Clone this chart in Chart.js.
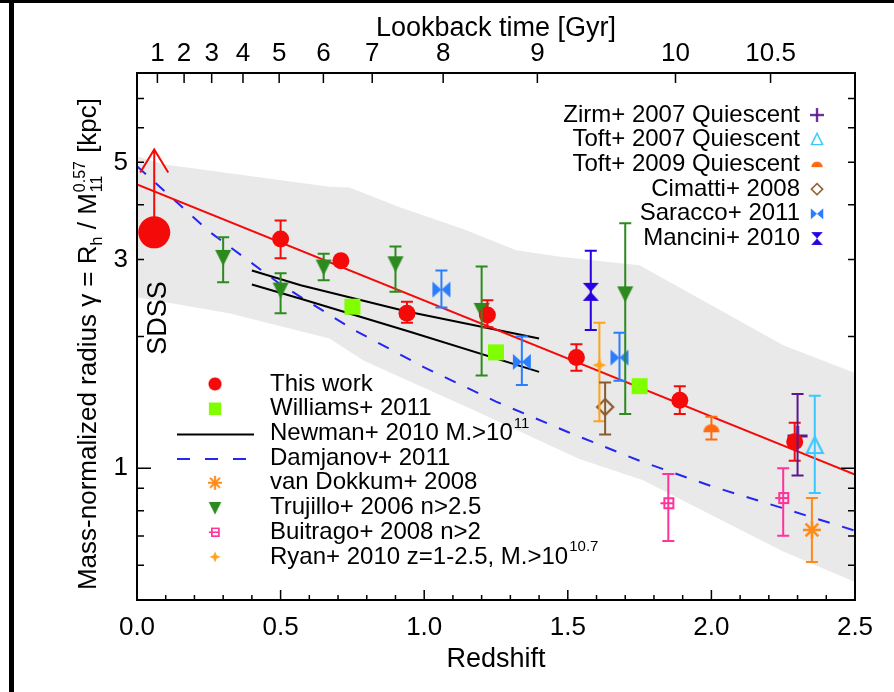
<!DOCTYPE html>
<html>
<head>
<meta charset="utf-8">
<script src="https://cdn.jsdelivr.net/npm/chart.js@4.4.0/dist/chart.umd.min.js"></script>
<style>
  html, body { margin: 0; padding: 0; background: #fff; }
</style>
</head>
<body>
<canvas id="sizeChart" width="894" height="692"></canvas>
<script>
// ---- values: redshift z and gamma [kpc] ----
const thisWorkZ  = [0.50, 0.71, 0.94, 1.22, 1.53, 1.89, 2.29];
const thisWorkY  = [3.34, 2.98, 2.26, 2.24, 1.79, 1.43, 1.15];
const thisWorkLo = [3.02, 2.90, 2.15, 2.10, 1.67, 1.33, 1.04];
const thisWorkHi = [3.68, 3.06, 2.40, 2.42, 1.92, 1.54, 1.27];

const sdssZ = [0.06];
const sdssY = [3.46];
const sdssArrowTop = 5.35;

const williamsZ = [0.75, 1.25, 1.75];
const williamsY = [2.34, 1.84, 1.54];

const trujilloZ  = [0.30, 0.50, 0.65, 0.90, 1.20, 1.70];
const trujilloY  = [3.04, 2.56, 2.89, 2.94, 2.30, 2.51];
const trujilloLo = [2.66, 2.26, 2.69, 2.53, 1.63, 1.33];
const trujilloHi = [3.37, 2.79, 3.09, 3.21, 2.89, 3.63];

const saraccoZ  = [1.06, 1.34, 1.68];
const saraccoY  = [2.56, 1.75, 1.79];
const saraccoLo = [2.33, 1.55, 1.585];
const saraccoHi = [2.83, 2.00, 2.04];

const manciniZ = [1.58], manciniY = [2.53], manciniLo = [2.07], manciniHi = [3.14];
const ryanZ = [1.61], ryanY = [1.72], ryanLo = [1.28], ryanHi = [2.15];
const cimattiZ = [1.63], cimattiY = [1.38], cimattiLo = [1.195], cimattiHi = [1.57];
const toft09Z = [2.00], toft09Y = [1.234], toft09Lo = [1.164], toft09Hi = [1.312];
const zirmZ = [2.30], zirmY = [1.185], zirmLo = [0.962], zirmHi = [1.477];
const toft07Z = [2.36], toft07Y = [1.124], toft07Lo = [0.878], toft07Hi = [1.464];
const dokkumZ = [2.35], dokkumY = [0.723], dokkumLo = [0.611], dokkumHi = [0.855];

const buitragoZ  = [1.85, 2.25];
const buitragoY  = [0.832, 0.855];
const buitragoLo = [0.682, 0.701];
const buitragoHi = [0.97, 1.00];

const fitZ = [0, 2.5];
const fitY = [4.45, 0.967];

const damjanovZ = [0, 0.25, 0.5, 0.75, 1.0, 1.25, 1.5, 1.75, 2.0, 2.25, 2.5];
const damjanovY = [4.90, 3.48, 2.63, 2.08, 1.70, 1.42, 1.21, 1.04, 0.91, 0.81, 0.72];

const newmanUpperZ = [0.40, 0.57, 0.94, 1.40];
const newmanUpperY = [2.83, 2.62, 2.28, 1.98];
const newmanLowerZ = [0.40, 0.57, 0.95, 1.40];
const newmanLowerY = [2.63, 2.44, 2.05, 1.66];

const bandTopZ = [0, 0.09, 0.67, 0.74, 0.91, 1.14, 1.32, 1.48, 1.75, 2.25, 2.5];
const bandTopY = [5.16, 4.95, 4.40, 4.38, 3.96, 3.51, 3.15, 3.04, 2.91, 1.91, 1.65];
const bandBottomZ = [0, 0.32, 0.67, 0.79, 1.16, 1.54, 1.76, 2.25, 2.5];
const bandBottomY = [2.46, 2.26, 1.98, 1.76, 1.37, 1.05, 0.94, 0.645, 0.55];

// axis ticks
const lookbackZ = [0.071, 0.164, 0.260, 0.369, 0.495, 0.649, 0.819, 1.066, 1.394, 1.875, 2.206];
const lookbackLabels = ['1', '2', '3', '4', '5', '6', '7', '8', '9', '10', '10.5'];
const yLabelValues = [1, 3, 5];
const yTickValues = [0.6, 0.7, 0.8, 0.9, 1, 2, 3, 4, 5, 6, 7];

const legendRightLabels = ['Zirm+ 2007 Quiescent', 'Toft+ 2007 Quiescent', 'Toft+ 2009 Quiescent',
  'Cimatti+ 2008', 'Saracco+ 2011', 'Mancini+ 2010'];
const legendLeftLabels = [['This work', ''], ['Williams+ 2011', ''], ['Newman+ 2010 M.>10', '11'],
  ['Damjanov+ 2011', ''], ['van Dokkum+ 2008', ''], ['Trujillo+ 2006 n>2.5', ''],
  ['Buitrago+ 2008 n>2', ''], ['Ryan+ 2010 z=1-2.5, M.>10', '10.7']];

const FONT = 'Liberation Sans, Arial, Helvetica, sans-serif';
Chart.defaults.font.family = FONT;
Chart.defaults.color = '#000';

// colours
const RED = '#f50a0a', GREEN = '#2c8a1e', LIME = '#80ff00', SKY = '#2a7dff', VIOLET = '#2a00e0';
const ORANGE = '#ffa31a', BROWN = '#8a5a2e', DOME = '#ff6a10', PURPLE = '#5c178c';
const CYAN = '#3cc8ff', DOKKUM = '#ff8a1a', PINK = '#ff3399', DBLUE = '#2626f0';

// little marker images
function marker(size, draw) {
    const c = document.createElement('canvas');
    c.width = size; c.height = size;
    const g = c.getContext('2d');
    g.translate(size / 2, size / 2);
    g.lineJoin = 'miter';
    draw(g);
    return c;
}
const mkTriDown = marker(22, g => {
    g.fillStyle = GREEN; g.beginPath();
    g.moveTo(-8, -7); g.lineTo(8, -7); g.lineTo(0, 9); g.closePath(); g.fill();
});
const mkSquare = marker(20, g => { g.fillStyle = LIME; g.fillRect(-8, -8, 16, 16); });
const mkBowtie = marker(22, g => {
    g.fillStyle = SKY; g.beginPath();
    g.moveTo(-9, -8); g.lineTo(-9, 8); g.lineTo(0, 0); g.closePath();
    g.moveTo(9, -8); g.lineTo(9, 8); g.lineTo(0, 0); g.closePath(); g.fill();
});
const mkHourglass = marker(22, g => {
    g.fillStyle = VIOLET; g.beginPath();
    g.moveTo(-8, -9); g.lineTo(8, -9); g.lineTo(0, 0); g.closePath();
    g.moveTo(-8, 9); g.lineTo(8, 9); g.lineTo(0, 0); g.closePath(); g.fill();
});
const mkStar4 = marker(18, g => {
    g.fillStyle = ORANGE; g.beginPath();
    g.moveTo(0, -7); g.lineTo(2, -2); g.lineTo(7, 0); g.lineTo(2, 2);
    g.lineTo(0, 7); g.lineTo(-2, 2); g.lineTo(-7, 0); g.lineTo(-2, -2); g.closePath(); g.fill();
});
const mkDiamond = marker(22, g => {
    g.strokeStyle = BROWN; g.lineWidth = 2.2; g.beginPath();
    g.moveTo(0, -8); g.lineTo(8, 0); g.lineTo(0, 8); g.lineTo(-8, 0); g.closePath(); g.stroke();
});
const mkDome = marker(20, g => {
    g.fillStyle = DOME; g.beginPath();
    g.arc(0, 4, 8, Math.PI, 0); g.closePath(); g.fill();
});
const mkPlus = marker(24, g => {
    g.strokeStyle = PURPLE; g.lineWidth = 3; g.beginPath();
    g.moveTo(-10, 0); g.lineTo(10, 0); g.moveTo(0, -10); g.lineTo(0, 10); g.stroke();
});
const mkTriUp = marker(22, g => {
    g.strokeStyle = CYAN; g.lineWidth = 2.2; g.beginPath();
    g.moveTo(0, -9); g.lineTo(8, 7); g.lineTo(-8, 7); g.closePath(); g.stroke();
});
const mkAsterisk = marker(22, g => {
    g.strokeStyle = DOKKUM; g.lineWidth = 2.5; g.beginPath();
    for (let k = 0; k < 4; k++) {
        const a = k * Math.PI / 4;
        g.moveTo(-9 * Math.cos(a), -9 * Math.sin(a)); g.lineTo(9 * Math.cos(a), 9 * Math.sin(a));
    }
    g.stroke();
});
const mkBuitrago = marker(20, g => {
    g.strokeStyle = PINK; g.lineWidth = 2; g.beginPath();
    g.rect(-4, -5, 9, 10); g.moveTo(-8, 0); g.lineTo(5, 0); g.stroke();
});
const mkCircle = marker(20, g => { g.fillStyle = RED; g.beginPath(); g.arc(0, 0, 8.5, 0, 2 * Math.PI); g.fill(); });

const pts = (zs, ys) => zs.map((z, i) => ({ x: z, y: ys[i] }));

function pointSet(zs, ys, style, color, lo, hi, extra) {
    return Object.assign({
        data: pts(zs, ys), pointStyle: style, pointRadius: 9, pointHoverRadius: 9,
        backgroundColor: color, borderColor: color, borderWidth: 0, showLine: false,
        errLo: lo, errHi: hi, errColor: color
    }, extra || {});
}
function lineSet(zs, ys, color, dash) {
    return {
        data: pts(zs, ys), showLine: true, borderColor: color, borderWidth: 2,
        borderDash: dash || [], pointRadius: 0, pointHoverRadius: 0, fill: false
    };
}

const datasets = [
    pointSet(sdssZ, sdssY, 'circle', RED, null, null, { pointRadius: 16, sdss: true }),
    pointSet(thisWorkZ, thisWorkY, 'circle', RED, thisWorkLo, thisWorkHi, { pointRadius: 8.5 }),
    pointSet(williamsZ, williamsY, mkSquare, LIME),
    pointSet(trujilloZ, trujilloY, mkTriDown, GREEN, trujilloLo, trujilloHi),
    pointSet(saraccoZ, saraccoY, mkBowtie, SKY, saraccoLo, saraccoHi),
    pointSet(manciniZ, manciniY, mkHourglass, VIOLET, manciniLo, manciniHi),
    pointSet(ryanZ, ryanY, mkStar4, ORANGE, ryanLo, ryanHi),
    pointSet(cimattiZ, cimattiY, mkDiamond, BROWN, cimattiLo, cimattiHi),
    pointSet(toft09Z, toft09Y, mkDome, DOME, toft09Lo, toft09Hi),
    pointSet(zirmZ, zirmY, mkPlus, PURPLE, zirmLo, zirmHi),
    pointSet(toft07Z, toft07Y, mkTriUp, CYAN, toft07Lo, toft07Hi),
    pointSet(dokkumZ, dokkumY, mkAsterisk, DOKKUM, dokkumLo, dokkumHi),
    pointSet(buitragoZ, buitragoY, mkBuitrago, PINK, buitragoLo, buitragoHi),
    lineSet(fitZ, fitY, RED),
    lineSet(newmanUpperZ, newmanUpperY, '#000'),
    lineSet(newmanLowerZ, newmanLowerY, '#000'),
    lineSet(damjanovZ, damjanovY, DBLUE, [12, 13]),
    { data: pts(bandTopZ, bandTopY), showLine: true, borderWidth: 0, borderColor: 'rgba(0,0,0,0)',
      backgroundColor: '#e9e9e9', pointRadius: 0, fill: '+1' },
    { data: pts(bandBottomZ, bandBottomY), showLine: true, borderWidth: 0, borderColor: 'rgba(0,0,0,0)',
      pointRadius: 0, fill: false }
];

function drawMarker(ctx, img, x, y, s) {
    ctx.drawImage(img, x - img.width * s / 2, y - img.height * s / 2, img.width * s, img.height * s);
}

const figurePlugin = {
    id: 'figure',
    afterDatasetsDraw(chart) {
        const ctx = chart.ctx, xs = chart.scales.x, ys = chart.scales.y;
        ctx.save();
        ctx.lineWidth = 2;
        chart.data.datasets.forEach(ds => {
            if (ds.sdss) {
                // lower-limit arrow on the SDSS point
                const x = xs.getPixelForValue(ds.data[0].x);
                const y0 = ys.getPixelForValue(ds.data[0].y);
                const yt = ys.getPixelForValue(sdssArrowTop);
                ctx.strokeStyle = RED;
                ctx.beginPath();
                ctx.moveTo(x, y0); ctx.lineTo(x, yt);
                ctx.moveTo(x - 14, yt + 23); ctx.lineTo(x, yt); ctx.lineTo(x + 14, yt + 23);
                ctx.stroke();
            }
            if (!ds.errLo) return;
            ctx.strokeStyle = ds.errColor;
            ds.data.forEach((p, j) => {
                const x = xs.getPixelForValue(p.x);
                const yl = ys.getPixelForValue(ds.errLo[j]);
                const yh = ys.getPixelForValue(ds.errHi[j]);
                ctx.beginPath();
                ctx.moveTo(x, yl); ctx.lineTo(x, yh);
                ctx.moveTo(x - 6, yl); ctx.lineTo(x + 6, yl);
                ctx.moveTo(x - 6, yh); ctx.lineTo(x + 6, yh);
                ctx.stroke();
            });
        });
        ctx.restore();
    },
    afterDraw(chart) {
        const ctx = chart.ctx, a = chart.chartArea;
        const xs = chart.scales.x, ys = chart.scales.y;
        ctx.save();
        // page frame
        ctx.fillStyle = '#000';
        ctx.fillRect(0, 0, chart.width, 3);
        ctx.fillRect(9, 0, 5, chart.height);

        // plot box and inward ticks
        ctx.strokeStyle = '#000';
        ctx.lineWidth = 2;
        ctx.strokeRect(a.left, a.top, a.right - a.left, a.bottom - a.top);
        ctx.lineWidth = 1.5;
        ctx.beginPath();
        for (let i = 1; i < 25; i++) {
            const px = xs.getPixelForValue(i / 10);
            const len = i % 5 === 0 ? 10 : 5;
            ctx.moveTo(px, a.bottom); ctx.lineTo(px, a.bottom - len);
        }
        lookbackZ.forEach(z => {
            const px = xs.getPixelForValue(z);
            ctx.moveTo(px, a.top); ctx.lineTo(px, a.top + 10);
        });
        yTickValues.forEach(v => {
            const py = ys.getPixelForValue(v);
            const len = v === 1 ? 14 : 7;
            ctx.moveTo(a.left, py); ctx.lineTo(a.left + len, py);
            ctx.moveTo(a.right, py); ctx.lineTo(a.right - len, py);
        });
        ctx.stroke();

        // axis titles
        const cx = (a.left + a.right) / 2;
        ctx.fillStyle = '#000';
        ctx.textAlign = 'center';
        ctx.textBaseline = 'middle';
        ctx.font = '27px ' + FONT;
        ctx.fillText('Lookback time [Gyr]', cx, 29);
        ctx.fillText('Redshift', cx, 660);

        // rotated y title with sub/superscripts
        ctx.save();
        ctx.translate(96, 345);
        ctx.rotate(-Math.PI / 2);
        ctx.textAlign = 'left';
        ctx.textBaseline = 'alphabetic';
        const big = '26px ' + FONT, small = '16px ' + FONT;
        const parts = [
            ['Mass-normalized radius \u03b3 = R', big, 0], ['h', small, 6], [' / M', big, 0]
        ];
        ctx.font = small;
        const stackW = ctx.measureText('0.57').width;
        ctx.font = big;
        let total = 0;
        parts.forEach(p => { ctx.font = p[1]; total += ctx.measureText(p[0]).width; });
        ctx.font = big;
        total += stackW + ctx.measureText(' [kpc]').width;
        let u = -total / 2;
        parts.forEach(p => {
            ctx.font = p[1];
            ctx.fillText(p[0], u, p[2]);
            u += ctx.measureText(p[0]).width;
        });
        ctx.font = small;
        ctx.fillText('0.57', u + 1, -11);
        ctx.fillText('11', u + 1, 6);
        u += stackW + 2;
        ctx.font = big;
        ctx.fillText(' [kpc]', u, 0);
        ctx.restore();

        // SDSS label
        ctx.save();
        ctx.translate(xs.getPixelForValue(sdssZ[0]) + 4, 318);
        ctx.rotate(-Math.PI / 2);
        ctx.font = '27px ' + FONT;
        ctx.textAlign = 'center';
        ctx.textBaseline = 'middle';
        ctx.fillText('SDSS', 0, 0);
        ctx.restore();

        // legend, upper right
        const rightMarkers = [mkPlus, mkTriUp, mkDome, mkDiamond, mkBowtie, mkHourglass];
        ctx.font = '24px ' + FONT;
        ctx.textAlign = 'right';
        ctx.textBaseline = 'middle';
        legendRightLabels.forEach((t, i) => {
            const y = 115 + i * 24.7;
            ctx.fillText(t, 800, y);
            drawMarker(ctx, rightMarkers[i], 817, y, 0.7);
        });

        // legend, lower left
        const leftMarkers = [mkCircle, mkSquare, 'solid', 'dash', mkAsterisk, mkTriDown, mkBuitrago, mkStar4];
        ctx.textAlign = 'left';
        legendLeftLabels.forEach((t, i) => {
            const y = 384 + i * 24.7;
            const m = leftMarkers[i];
            if (m === 'solid' || m === 'dash') {
                ctx.save();
                ctx.lineWidth = 2;
                ctx.strokeStyle = m === 'solid' ? '#000' : DBLUE;
                ctx.setLineDash(m === 'solid' ? [] : [13, 15]);
                ctx.beginPath(); ctx.moveTo(177, y + 1); ctx.lineTo(254, y + 1); ctx.stroke();
                ctx.restore();
            } else {
                drawMarker(ctx, m, 215, y, 0.78);
            }
            ctx.font = '24px ' + FONT;
            ctx.fillText(t[0], 270, y);
            if (t[1]) {
                const w = ctx.measureText(t[0]).width;
                ctx.font = '15px ' + FONT;
                ctx.fillText(t[1], 271 + w, y - 10);
            }
        });
        ctx.restore();
    }
};

const ctx = document.getElementById('sizeChart').getContext('2d');
const sizeChart = new Chart(ctx, {
    type: 'scatter',
    data: { datasets: datasets },
    options: {
        responsive: false,
        animation: false,
        events: [],
        layout: { padding: { left: 0, right: 39, top: 0, bottom: 0 } },
        plugins: {
            legend: { display: false },
            tooltip: { enabled: false },
            filler: { propagate: false }
        },
        scales: {
            x: {
                type: 'linear', position: 'bottom', min: 0, max: 2.5,
                grid: { display: false, drawTicks: false },
                border: { display: false },
                ticks: { stepSize: 0.5, padding: 12, maxRotation: 0, font: { size: 26 },
                         callback: v => v.toFixed(1) },
                afterFit(s) { s.height = 92; }
            },
            x2: {
                type: 'linear', position: 'top', min: 0, max: 2.5,
                grid: { display: false, drawTicks: false },
                border: { display: false },
                ticks: { padding: 4, maxRotation: 0, autoSkip: false, font: { size: 26 },
                         callback: (v, i) => lookbackLabels[i] },
                afterBuildTicks(s) { s.ticks = lookbackZ.map(v => ({ value: v })); },
                afterFit(s) { s.height = 73; }
            },
            y: {
                type: 'logarithmic', position: 'left', min: 0.5, max: 8,
                grid: { display: false, drawTicks: false },
                border: { display: false },
                ticks: { padding: 9, autoSkip: false, font: { size: 26 }, callback: v => String(v) },
                afterBuildTicks(s) { s.ticks = yLabelValues.map(v => ({ value: v })); },
                afterFit(s) { s.width = 137; }
            }
        }
    },
    plugins: [figurePlugin]
});
</script>
</body>
</html>
